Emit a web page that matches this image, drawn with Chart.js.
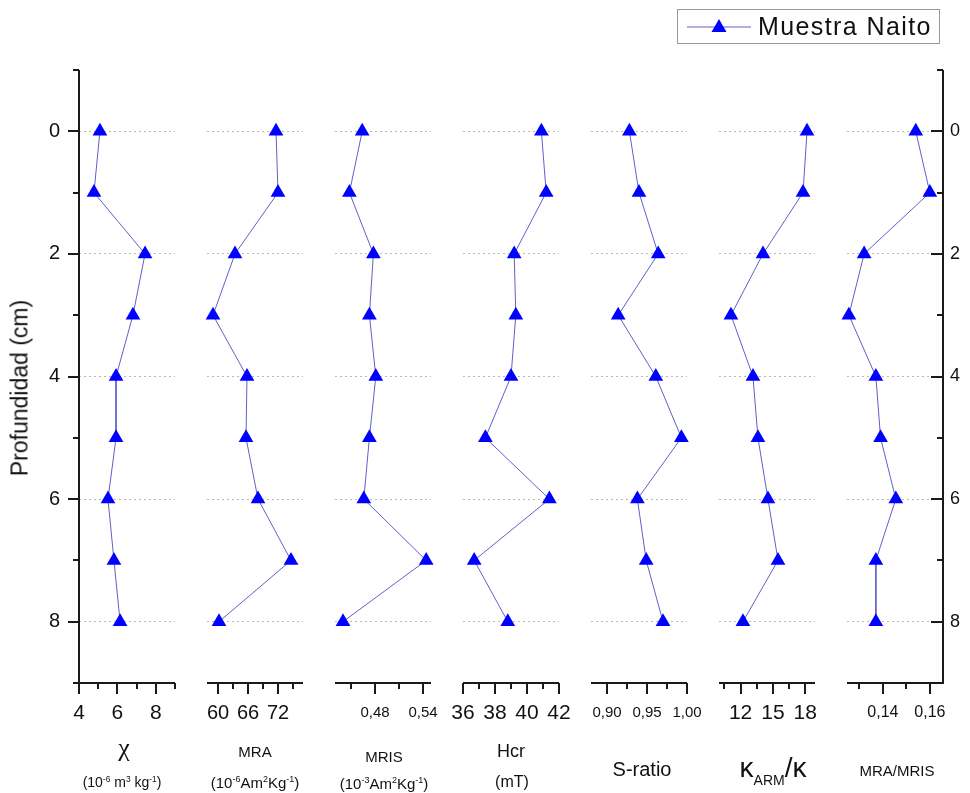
<!DOCTYPE html>
<html>
<head>
<meta charset="utf-8">
<script src="https://cdn.jsdelivr.net/npm/chart.js@4.4.0/dist/chart.umd.min.js"></script>
<style>
  html, body { margin: 0; background: #fff; overflow: hidden; }
  #wrap { position: relative; width: 970px; height: 793px; overflow: hidden; font-family: "Liberation Sans", Arial, sans-serif; color: #111; }
  #wrap canvas { position: absolute; left: 0; top: 0; }
  .lbl { position: absolute; transform: translate(-50%, -50%); white-space: nowrap; line-height: 1; }
  .lbl sup { font-size: 0.6em; vertical-align: 0.6em; line-height: 0; }
</style>
</head>
<body>
<div id="wrap">
  <canvas id="c0" width="970" height="793"></canvas>
  <canvas id="c1" width="970" height="793"></canvas>
  <canvas id="c2" width="970" height="793"></canvas>
  <canvas id="c3" width="970" height="793"></canvas>
  <canvas id="c4" width="970" height="793"></canvas>
  <canvas id="c5" width="970" height="793"></canvas>
  <canvas id="c6" width="970" height="793"></canvas>

  <div style="position:absolute;left:677px;top:9px;width:261px;height:33px;border:1px solid #999;">
    <svg width="80" height="33" style="position:absolute;left:0;top:0">
      <line x1="9" y1="17" x2="73" y2="17" stroke="#6060c8" stroke-width="1"/>
      <polygon points="41,9 48.5,22 33.5,22" fill="#0000ff"/>
    </svg>
    <span style="position:absolute;left:80px;top:16px;transform:translateY(-50%);font-size:25px;letter-spacing:1.4px;white-space:nowrap">Muestra Naito</span>
  </div>

  <div class="lbl" style="left:20px;top:388px;font-size:23px;transform:translate(-50%,-50%) rotate(-90deg)">Profundidad (cm)</div>

  <div class="lbl" style="left:124px;top:748px;font-family:'Liberation Serif',serif;font-size:26px">&chi;</div>
  <div class="lbl" style="left:122px;top:782px;font-size:14px">(10<sup>-6</sup> m<sup>3</sup> kg<sup>-1</sup>)</div>

  <div class="lbl" style="left:255px;top:751px;font-size:15px">MRA</div>
  <div class="lbl" style="left:255px;top:782px;font-size:15px">(10<sup>-6</sup>Am<sup>2</sup>Kg<sup>-1</sup>)</div>

  <div class="lbl" style="left:384px;top:756px;font-size:15px">MRIS</div>
  <div class="lbl" style="left:384px;top:783px;font-size:15px">(10<sup>-3</sup>Am<sup>2</sup>Kg<sup>-1</sup>)</div>

  <div class="lbl" style="left:511px;top:751px;font-size:18px">Hcr</div>
  <div class="lbl" style="left:512px;top:782px;font-size:16px">(mT)</div>

  <div class="lbl" style="left:642px;top:769px;font-size:20px">S-ratio</div>

  <div class="lbl" style="left:773px;top:770px;font-size:28px">&kappa;<span style="font-size:14px;vertical-align:-8px">ARM</span>/&kappa;</div>

  <div class="lbl" style="left:897px;top:770px;font-size:15px">MRA/MRIS</div>
</div>

<script>
// depth of each sample (cm)
var depth = [0, 1, 2, 3, 4, 5, 6, 7, 8];

// measured values, one per depth
var chi     = [5.09, 4.78, 7.44, 6.81, 5.93, 5.93, 5.51, 5.82, 6.14];
var mra     = [71.6, 72.0, 63.4, 59.0, 65.8, 65.6, 68.0, 74.6, 60.2];
var mris    = [0.464, 0.448, 0.478, 0.473, 0.481, 0.473, 0.466, 0.544, 0.440];
var hcr     = [40.9, 41.2, 39.2, 39.3, 39.0, 37.4, 41.4, 36.7, 38.8];
var sRatio  = [0.928, 0.940, 0.964, 0.914, 0.961, 0.993, 0.938, 0.949, 0.970];
var kArm    = [18.16, 17.79, 14.08, 11.11, 13.15, 13.61, 14.54, 15.47, 12.22];
var mraMris = [0.154, 0.160, 0.132, 0.1255, 0.137, 0.139, 0.1455, 0.137, 0.137];

// tick labels
var depthTicks   = [0, 2, 4, 6, 8];
var chiTicks     = [4, 6, 8];
var mraTicks     = [60, 66, 72];
var mrisTicks    = [0.48, 0.54];
var hcrTicks     = [36, 38, 40, 42];
var sRatioTicks  = [0.90, 0.95, 1.00];
var kArmTicks    = [12, 15, 18];
var mraMrisTicks = [0.14, 0.16];

// panel setup: values, ticks, axis range, decimals, tick font size
var panels = [
  { values: chi,     ticks: chiTicks,     min: 4,      max: 9,      dec: 0, size: 21 },
  { values: mra,     ticks: mraTicks,     min: 57.8,   max: 77,     dec: 0, size: 20 },
  { values: mris,    ticks: mrisTicks,    min: 0.43,   max: 0.55,   dec: 2, size: 15 },
  { values: hcr,     ticks: hcrTicks,     min: 36,     max: 42,     dec: 0, size: 21 },
  { values: sRatio,  ticks: sRatioTicks,  min: 0.88,   max: 1.00,   dec: 2, size: 15 },
  { values: kArm,    ticks: kArmTicks,    min: 10,     max: 18.9,   dec: 0, size: 21 },
  { values: mraMris, ticks: mraMrisTicks, min: 0.1247, max: 0.1656, dec: 2, size: 16 }
];

var W = 970, H = 793;
var AREA_TOP = 70, AREA_BOTTOM = 683;
var PANEL_W = 96, PANEL_STEP = 128, FIRST_LEFT = 79;
var AXIS_COLOR = '#1a1a1a';

function minorsFor(majors, min, max) {
  var out = [];
  if (majors.length < 2) return out;
  var step = majors[1] - majors[0];
  var eps = step * 1e-3;
  var first = majors[0] - step / 2;
  if (first >= min - eps) out.push(first);
  for (var i = 0; i < majors.length - 1; i++) out.push((majors[i] + majors[i + 1]) / 2);
  var last = majors[majors.length - 1] + step / 2;
  if (last <= max + eps) out.push(last);
  return out;
}

// draws axis lines and tick marks (major + minor) from the chart's scales
var framePlugin = {
  id: 'frame',
  afterDraw: function(chart, args, opts) {
    var ctx = chart.ctx, a = chart.chartArea;
    var xs = chart.scales.x, ys = chart.scales.y;
    ctx.save();
    ctx.strokeStyle = AXIS_COLOR;
    ctx.lineWidth = 2;
    ctx.lineCap = 'butt';
    function seg(x1, y1, x2, y2) {
      ctx.beginPath(); ctx.moveTo(x1, y1); ctx.lineTo(x2, y2); ctx.stroke();
    }
    // bottom axis
    seg(a.left, a.bottom, a.right, a.bottom);
    var xMaj = xs.ticks.map(function(t) { return t.value; });
    xMaj.forEach(function(v) { var p = Math.round(xs.getPixelForValue(v)); seg(p, a.bottom, p, a.bottom + 11); });
    minorsFor(xMaj, xs.min, xs.max).forEach(function(v) {
      var p = Math.round(xs.getPixelForValue(v)); seg(p, a.bottom, p, a.bottom + 6);
    });
    // vertical axis
    var yMaj = ys.ticks.map(function(t) { return t.value; });
    var yMin = minorsFor(yMaj, ys.min, ys.max);
    if (opts.side === 'left') {
      seg(a.left, a.top, a.left, a.bottom + 1);
      yMaj.forEach(function(v) { var p = Math.round(ys.getPixelForValue(v)); seg(a.left - 11, p, a.left, p); });
      yMin.forEach(function(v) { var p = Math.round(ys.getPixelForValue(v)); seg(a.left - 6, p, a.left, p); });
    } else if (opts.side === 'right') {
      seg(a.right, a.top, a.right, a.bottom + 1);
      yMaj.forEach(function(v) { var p = Math.round(ys.getPixelForValue(v)); seg(a.right - 12, p, a.right, p); });
      yMin.forEach(function(v) { var p = Math.round(ys.getPixelForValue(v)); seg(a.right - 6, p, a.right, p); });
    }
    ctx.restore();
  }
};

function fmt(v, dec) {
  return Number(v).toFixed(dec).replace('.', ',');
}

panels.forEach(function(p, i) {
  var left = FIRST_LEFT + PANEL_STEP * i;
  var right = left + PANEL_W;
  var side = i === 0 ? 'left' : (i === panels.length - 1 ? 'right' : 'none');
  var yWidth = side === 'left' ? 50 : (side === 'right' ? 20 : 0);

  var pad = {
    top: AREA_TOP,
    bottom: H - AREA_BOTTOM - 60,
    left: side === 'left' ? left - yWidth : left,
    right: side === 'right' ? W - right - yWidth : W - right
  };

  var points = depth.map(function(d, k) { return { x: p.values[k], y: d }; });

  new Chart(document.getElementById('c' + i), {
    type: 'scatter',
    data: {
      datasets: [{
        label: 'Muestra Naito',
        data: points,
        showLine: true,
        borderColor: '#6060c8',
        borderWidth: 1,
        pointStyle: 'triangle',
        pointRadius: 8.5,
        pointHoverRadius: 8.5,
        pointBackgroundColor: '#0000ff',
        pointBorderColor: '#0000ff',
        pointBorderWidth: 0,
        clip: false
      }]
    },
    options: {
      responsive: false,
      animation: false,
      devicePixelRatio: 1,
      events: [],
      layout: { padding: pad },
      plugins: {
        legend: { display: false },
        tooltip: { enabled: false },
        frame: { side: side }
      },
      scales: {
        x: {
          type: 'linear',
          position: 'bottom',
          min: p.min,
          max: p.max,
          afterBuildTicks: function(s) { s.ticks = p.ticks.map(function(v) { return { value: v }; }); },
          afterFit: function(s) { s.height = 60; },
          grid: { display: false, drawTicks: false },
          border: { display: false },
          ticks: {
            padding: 30 - 0.6 * p.size,
            color: '#111',
            maxRotation: 0,
            autoSkip: false,
            font: { family: '"Liberation Sans", Arial, sans-serif', size: p.size },
            callback: function(v) { return fmt(v, p.dec); }
          }
        },
        y: {
          type: 'linear',
          position: side === 'right' ? 'right' : 'left',
          min: -1,
          max: 9,
          reverse: true,
          afterBuildTicks: function(s) { s.ticks = depthTicks.map(function(v) { return { value: v }; }); },
          afterFit: function(s) { s.width = yWidth; },
          grid: { color: '#b8b8b8', lineWidth: 1, drawTicks: false },
          border: { display: false, dash: [2, 3] },
          ticks: {
            display: side !== 'none',
            padding: side === 'left' ? 19 : 7,
            color: '#111',
            font: { family: '"Liberation Sans", Arial, sans-serif', size: side === 'left' ? 20 : 18 },
            callback: function(v) { return String(v); }
          }
        }
      }
    },
    plugins: [framePlugin]
  });
});
</script>
</body>
</html>
